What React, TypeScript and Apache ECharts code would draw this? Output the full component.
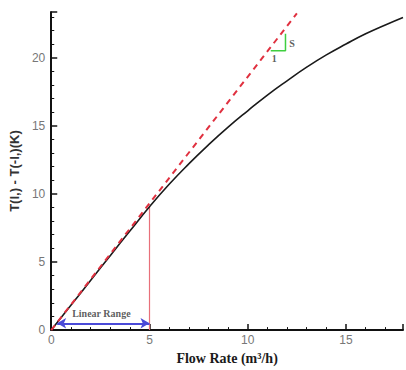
import React, { useEffect, useRef } from "react";
import * as echarts from "echarts";

const flowRate = [0, 1, 2, 3, 4, 5, 6, 7, 8, 9, 10, 11, 12, 13, 14, 15, 16, 17, 17.9];
const deltaT = [0, 1.82, 3.64, 5.46, 7.27, 9.05, 10.7, 12.2, 13.6, 14.9, 16.1, 17.25, 18.3, 19.3, 20.2, 21.0, 21.75, 22.4, 22.95];
const linearFitX = [0, 12.5];
const linearFitY = [0, 23.25];
const rangeMarkerX = [5, 5];
const rangeMarkerY = [0, 9.05];
const slopeX = [11.17, 11.92, 11.92];
const slopeY = [20.5, 20.5, 21.76];
const arrowX = [0.3, 5];
const arrowY = [0.5, 0.5];
const xTickLabels = ["0", "5", "10", "15"];
const yTickLabels = ["0", "5", "10", "15", "20"];

const zip = (xs: number[], ys: number[]) => xs.map((x, i) => [x, ys[i]]);

export default function App() {
  const ref = useRef<HTMLDivElement>(null);
  useEffect(() => {
    if (!ref.current) return;
    const chart = echarts.init(ref.current, null, { renderer: "svg" });
    const serif = "'Liberation Serif', 'DejaVu Serif', serif";
    const sans = "'Liberation Sans', Arial, sans-serif";
    chart.setOption({
      animation: false,
      backgroundColor: "#ffffff",
      grid: { left: 48, top: 12, right: 0, bottom: 33, containLabel: false },
      xAxis: {
        type: "value",
        min: 0,
        max: 17.9,
        interval: 5,
        name: "Flow Rate (m³/h)",
        nameLocation: "middle",
        nameGap: 17,
        nameTextStyle: { fontFamily: serif, fontWeight: "bold", fontSize: 14, color: "#1a1a1a" },
        axisLine: { show: true, lineStyle: { color: "#111", width: 2 } },
        axisTick: { show: true, inside: true, length: 6, lineStyle: { color: "#111", width: 1.5 } },
        minorTick: { show: true, splitNumber: 5, length: 3, lineStyle: { color: "#111", width: 1 } },
        splitLine: { show: false },
        axisLabel: {
          color: "#777",
          fontFamily: sans,
          fontSize: 12,
          margin: 4,
          formatter: (v: number) => (xTickLabels.includes(String(v)) ? String(v) : ""),
        },
      },
      yAxis: {
        type: "value",
        min: 0,
        max: 23.35,
        interval: 5,
        name: "T(l,) - T(-l,)(K)",
        nameLocation: "middle",
        nameGap: 22,
        nameRotate: 90,
        nameTextStyle: { fontFamily: sans, fontWeight: "bold", fontSize: 13, color: "#333" },
        axisLine: { show: true, lineStyle: { color: "#111", width: 2 } },
        axisTick: { show: true, inside: true, length: 6, lineStyle: { color: "#111", width: 1.5 } },
        minorTick: { show: true, splitNumber: 5, length: 3, lineStyle: { color: "#111", width: 1 } },
        splitLine: { show: false },
        axisLabel: {
          color: "#777",
          fontFamily: sans,
          fontSize: 12,
          margin: 6,
          formatter: (v: number) => (yTickLabels.includes(String(v)) ? String(v) : ""),
        },
      },
      series: [
        {
          type: "line",
          data: zip(rangeMarkerX, rangeMarkerY),
          symbol: "none",
          lineStyle: { color: "#e8707a", width: 1.2 },
          z: 2,
        },
        {
          type: "line",
          data: zip(flowRate, deltaT),
          smooth: true,
          symbol: "none",
          lineStyle: { color: "#1a1a1a", width: 1.6 },
          z: 3,
        },
        {
          type: "line",
          data: zip(linearFitX, linearFitY),
          symbol: "none",
          lineStyle: { color: "#e0303f", width: 2, type: [6, 5] },
          z: 4,
        },
        {
          type: "line",
          data: zip(slopeX, slopeY),
          symbol: "none",
          lineStyle: { color: "#3fcf3f", width: 1.5 },
          z: 5,
        },
        {
          type: "line",
          data: [],
          symbol: "none",
          markLine: {
            silent: true,
            symbol: ["arrow", "arrow"],
            symbolSize: [8, 9],
            label: { show: false },
            lineStyle: { color: "#4a4ad8", width: 2, type: "solid" },
            data: [[{ coord: [arrowX[0], arrowY[0]] }, { coord: [arrowX[1], arrowY[1]] }]],
          },
          z: 6,
        },
        {
          type: "scatter",
          symbolSize: 0,
          data: [
            { value: [2.55, 1.25], name: "Linear Range" },
            { value: [12.25, 21.05], name: "S" },
            { value: [11.35, 19.95], name: "1" },
          ],
          label: {
            show: true,
            position: "inside",
            formatter: (p: any) => p.name,
            fontFamily: serif,
            fontWeight: "bold",
            fontSize: 10,
            color: "#333",
          },
          z: 7,
        },
      ],
    });
    return () => chart.dispose();
  }, []);
  return (
    <div
      ref={ref}
      style={{ position: "absolute", left: 0, top: 0, width: 406, height: 370 }}
    />
  );
}
